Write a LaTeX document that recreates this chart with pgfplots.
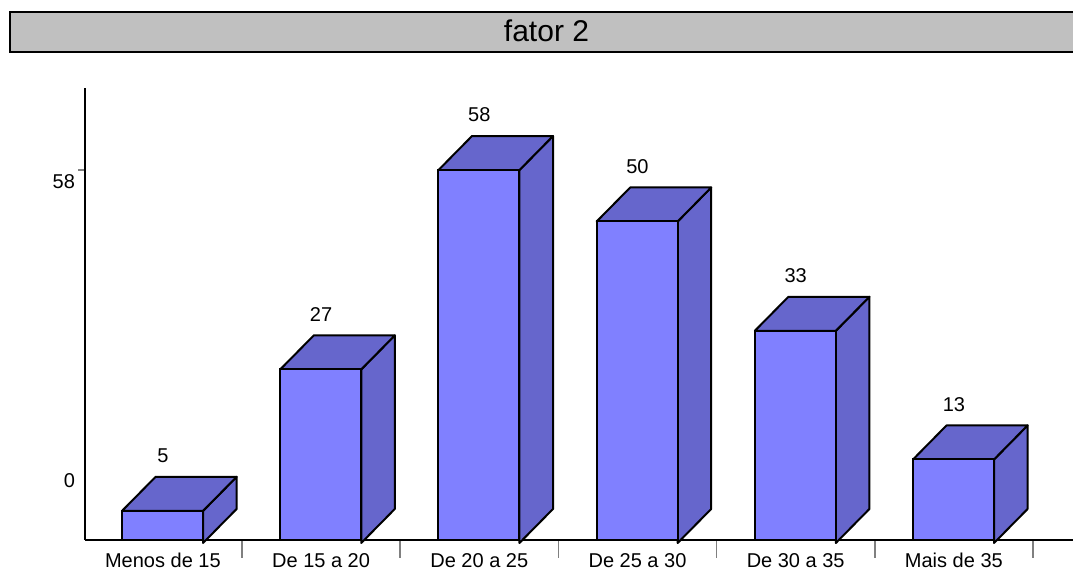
\documentclass[border=0pt]{standalone}
\usepackage{pgfplots}
\pgfplotsset{compat=1.18}
\usepackage{pgfplotstable}
\usepackage{fontspec}
\setmainfont{Liberation Sans}

\definecolor{frente}{HTML}{8080FF}
\definecolor{lado}{HTML}{6666CC}
\definecolor{titulo}{HTML}{C0C0C0}

% frequencies per age group (fator 2)
\pgfplotstableread{
pos valor
0 5
1 27
2 58
3 50
4 33
5 13
}\fator

\begin{document}
\begin{tikzpicture}[x=1pt, y=1pt,
  face/.style={fill=lado, draw=black, line width=1pt, line join=round}]
\path[use as bounding box] (0,0) rectangle (536.5,285.5);
% title bar, open on the right
\fill[titulo] (5,259.5) rectangle (536.5,279.5);
\draw[line width=1pt, line cap=butt] (536.5,259.5) -- (5,259.5) -- (5,279.5) -- (536.5,279.5);
\node[font=\fontsize{15}{18}\selectfont, inner sep=0pt] at (273.25,270) {fator 2};
\begin{axis}[
  at={(42.5pt,15.5pt)}, anchor=south west,
  scale only axis, width=494pt, height=226pt,
  xmin=-0.4924, xmax=5.753, ymin=0.4666, ymax=70.76,
  axis x line*=bottom, axis y line*=left,
  axis line style={line width=0.8pt},
  clip=false,
  tick align=outside,
  /pgf/number format/assume math mode=true,
  ticklabel style={font=\fontsize{10}{12}\selectfont},
  xtick={0.5,1.5,...,5.5}, xticklabels={},
  xtick style={line width=0.8pt, /pgfplots/major tick length=9pt},
  extra x ticks={0,1,...,5},
  extra x tick labels={Menos de 15, De 15 a 20, De 20 a 25, De 25 a 30, De 30 a 35, Mais de 35},
  extra x tick style={tick style={draw=none},
    xticklabel style={text height=7.3pt, text depth=0pt, yshift=1.5pt}},
  ytick={58},
  ytick style={line width=0.6pt, /pgfplots/major tick length=3.5pt},
  yticklabel style={xshift=2.75pt, yshift=-6pt},
  extra y ticks={11.56}, extra y tick labels={0},
  extra y tick style={tick style={draw=none}},
]
% top and side faces of each block
\pgfplotsinvokeforeach{0,...,5}{
  \pgfplotstablegetelem{#1}{valor}\of\fator
  \let\valor\pgfplotsretval
  \pgfmathsetmacro\xa{#1+0.254}
  \pgfmathsetmacro\xb{#1+0.466}
  \pgfmathsetmacro\xc{#1-0.258}
  \pgfmathsetmacro\xd{#1-0.046}
  \pgfmathsetmacro\vt{\valor+5.29}
  \edef\faces{%
    \noexpand\addplot[face] coordinates {(\xa,0) (\xb,5.29) (\xb,\vt) (\xa,\valor)} -- cycle;
    \noexpand\addplot[face] coordinates {(\xc,\valor) (\xa,\valor) (\xb,\vt) (\xd,\vt)} -- cycle;
  }
  \faces
}
% front faces
\addplot[ybar, bar width=0.512, bar shift=-0.002, fill=frente, draw=black,
  line width=1pt,
  nodes near coords,
  every node near coord/.append style={anchor=center, yshift=27.5pt,
    font=\fontsize{10}{12}\selectfont}]
  table[x=pos, y=valor] {\fator};
\end{axis}
\end{tikzpicture}
\end{document}
